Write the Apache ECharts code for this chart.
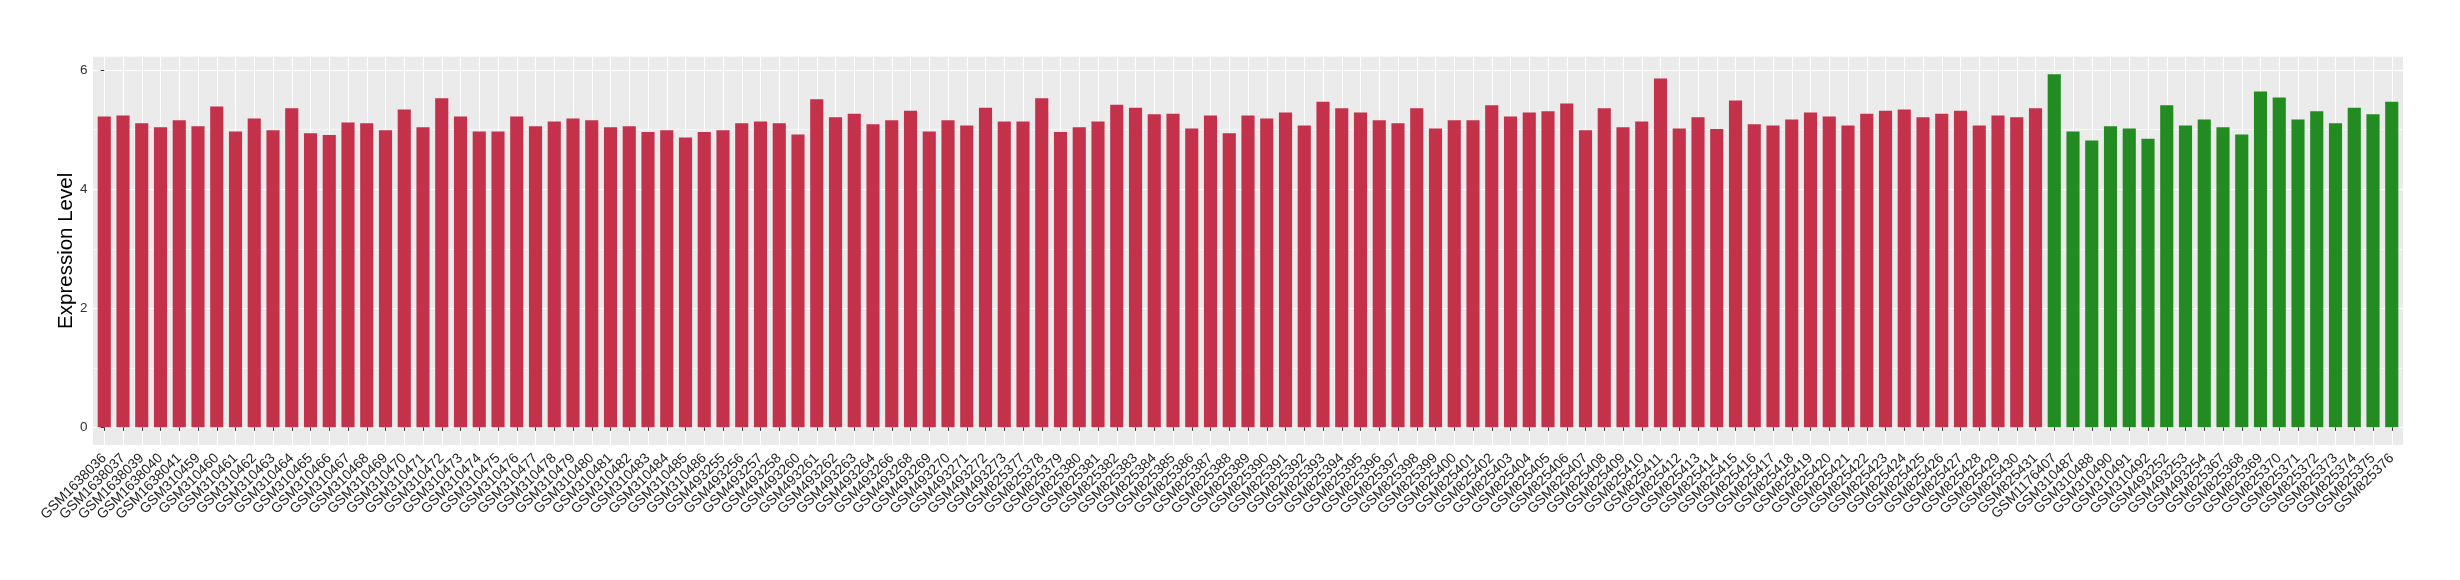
<!DOCTYPE html>
<html><head><meta charset="utf-8">
<script src="https://cdn.jsdelivr.net/npm/echarts@6/dist/echarts.min.js"></script>
<style>html,body{margin:0;padding:0;background:#fff}#c{width:2460px;height:580px}</style>
</head><body><div id="c"></div>
<script>
const redSamples = ["GSM1638036","GSM1638037","GSM1638039","GSM1638040","GSM1638041",
"GSM310459","GSM310460","GSM310461","GSM310462","GSM310463","GSM310464","GSM310465","GSM310466","GSM310467","GSM310468","GSM310469","GSM310470","GSM310471","GSM310472","GSM310473","GSM310474","GSM310475","GSM310476","GSM310477","GSM310478","GSM310479","GSM310480","GSM310481","GSM310482","GSM310483","GSM310484","GSM310485","GSM310486",
"GSM493255","GSM493256","GSM493257","GSM493258","GSM493260","GSM493261","GSM493262","GSM493263","GSM493264","GSM493266","GSM493268","GSM493269","GSM493270","GSM493271","GSM493272","GSM493273",
"GSM825377","GSM825378","GSM825379","GSM825380","GSM825381","GSM825382","GSM825383","GSM825384","GSM825385","GSM825386","GSM825387","GSM825388","GSM825389","GSM825390","GSM825391","GSM825392","GSM825393","GSM825394","GSM825395","GSM825396","GSM825397","GSM825398","GSM825399","GSM825400","GSM825401","GSM825402","GSM825403","GSM825404","GSM825405","GSM825406","GSM825407","GSM825408","GSM825409","GSM825410","GSM825411","GSM825412","GSM825413","GSM825414","GSM825415","GSM825416","GSM825417","GSM825418","GSM825419","GSM825420","GSM825421","GSM825422","GSM825423","GSM825424","GSM825425","GSM825426","GSM825427","GSM825428","GSM825429","GSM825430","GSM825431"];
const redValues = [5.22,5.24,5.11,5.04,5.16,5.06,5.39,4.97,5.19,4.99,5.36,4.94,4.91,5.12,5.11,4.99,5.34,5.04,5.53,5.22,4.97,4.97,5.22,5.06,5.14,
5.19,5.16,5.04,5.06,4.96,4.99,4.87,4.96,4.99,5.11,5.14,5.11,4.92,5.51,5.21,5.27,5.09,5.16,5.32,4.97,5.16,5.07,5.37,5.14,5.14,
5.53,4.96,5.04,5.14,5.42,5.37,5.26,5.27,5.02,5.24,4.94,5.24,5.19,5.29,5.07,5.47,5.36,5.29,5.16,5.11,5.36,5.02,5.16,5.16,5.41,
5.22,5.29,5.31,5.44,4.99,5.36,5.04,5.14,5.86,5.02,5.21,5.01,5.49,5.09,5.07,5.17,5.29,5.22,5.07,5.27,5.32,5.34,5.21,5.27,5.32,
5.07,5.24,5.21,5.36];
const greenSamples = ["GSM1176407","GSM310487","GSM310488","GSM310490","GSM310491","GSM310492","GSM493252","GSM493253","GSM493254","GSM825367","GSM825368","GSM825369","GSM825370","GSM825371","GSM825372","GSM825373","GSM825374","GSM825375","GSM825376"];
const greenValues = [5.93,4.97,4.82,5.06,5.02,4.85,5.41,5.07,5.17,5.04,4.92,5.64,5.54,5.17,5.31,5.11,5.37,5.26,5.47];
const yTicks = [0,2,4,6];
const yMinorTicks = [1,3,5];
const yTitle = "Expression Level";

const categories = redSamples.concat(greenSamples);
const idx = categories.map((_, i) => i);
const data = [];
redValues.forEach((v, i) => data.push({value: [i, v], itemStyle: {color: '#C3314A'}}));
greenValues.forEach((v, i) => data.push({value: [redSamples.length + i, v], itemStyle: {color: '#228B22'}}));
const maxV = Math.max(...redValues, ...greenValues);
const yMin = -0.05 * maxV, yMax = 1.05 * maxV;
const FONT = 'Liberation Sans, Arial, sans-serif';

// panel geometry (ggplot discrete expansion of 0.6 per side)
const PL = 93, PR = 57, PT = 56.7, PB = 135, W = 2460 - PL - PR;
const unit = W / (categories.length - 1 + 1.2);
const off = 0.1 * unit;

const chart = echarts.init(document.getElementById('c'), null, {renderer: 'canvas'});
chart.setOption({
  animation: false,
  backgroundColor: '#fff',
  grid: [
    {left: PL, right: PR, top: PT, bottom: PB, show: true, backgroundColor: '#EBEBEB', borderWidth: 0},
    {left: PL + off, right: PR + off, top: PT, bottom: PB, show: false}
  ],
  xAxis: [{
    type: 'value', gridIndex: 0, min: -0.6, max: categories.length - 1 + 0.6,
    axisLine: {show: false},
    axisTick: {show: true, customValues: idx, length: 3.5, lineStyle: {color: '#333', width: 1}},
    axisLabel: {show: false},
    splitLine: {show: true, lineStyle: {color: '#fff', width: 1.1}}
  }, {
    type: 'category', gridIndex: 1, data: categories, boundaryGap: true,
    axisLine: {show: false}, axisTick: {show: false}, splitLine: {show: false},
    axisLabel: {interval: 0, rotate: 45, fontSize: 14, color: '#222', margin: 11, fontFamily: FONT}
  }],
  yAxis: [{
    type: 'value', gridIndex: 0, min: yMin, max: yMax,
    name: yTitle, nameLocation: 'middle', nameGap: 16, nameMoveOverlap: false,
    nameTextStyle: {fontSize: 20.5, color: '#000', fontFamily: FONT},
    axisLine: {show: false},
    axisTick: {show: true, customValues: yTicks, length: 3.5, lineStyle: {color: '#333', width: 1}},
    axisLabel: {customValues: yTicks, fontSize: 13.5, color: '#333', margin: 5.5, fontFamily: FONT, showMinLabel: true, showMaxLabel: true},
    splitLine: {show: true, lineStyle: {color: '#fff', width: 1.1}}
  }, {
    type: 'value', gridIndex: 0, min: yMin, max: yMax, position: 'left',
    axisLine: {show: false},
    axisTick: {show: false, customValues: yMinorTicks},
    axisLabel: {show: false, customValues: yMinorTicks},
    splitLine: {show: true, lineStyle: {color: '#fff', width: 0.55}}
  }, {
    type: 'value', gridIndex: 1, min: yMin, max: yMax, show: false
  }],
  series: [{
    type: 'bar', xAxisIndex: 0, yAxisIndex: 0,
    barWidth: '70%', data: data
  }]
});
</script></body></html>
